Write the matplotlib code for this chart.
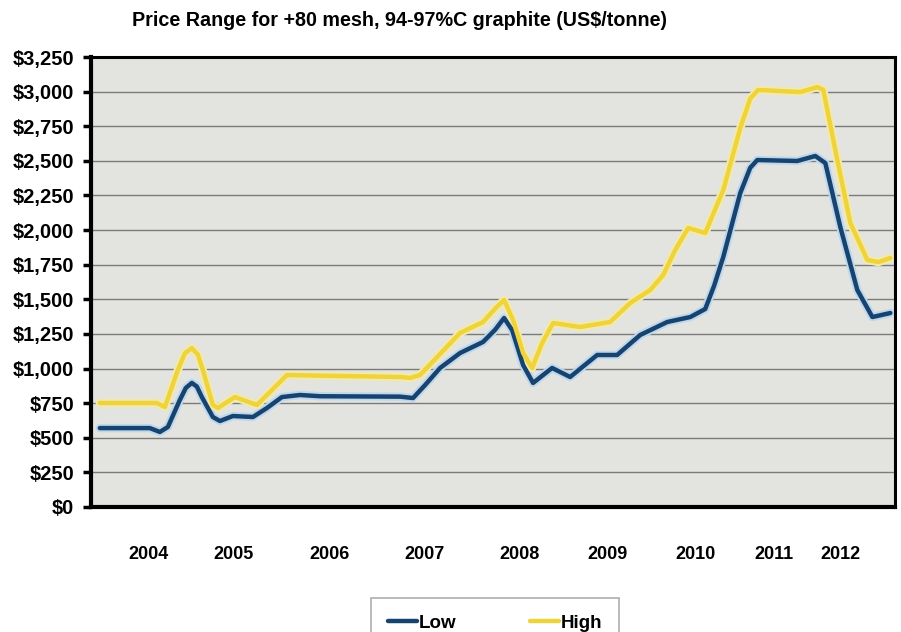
import matplotlib
matplotlib.use("Agg")
import matplotlib.pyplot as plt
from matplotlib.ticker import FuncFormatter, MultipleLocator

plt.rcParams['font.family'] = ['Liberation Sans', 'DejaVu Sans']

# Time in decimal years, prices in US$/tonne
low_t = [2004.000, 2004.568, 2004.682, 2004.773, 2004.909, 2004.977, 2005.045, 2005.102,
         2005.159, 2005.284, 2005.364, 2005.511, 2005.739, 2005.898, 2006.068, 2006.273,
         2006.500, 2007.409, 2007.557, 2007.693, 2007.864, 2008.091, 2008.352, 2008.489,
         2008.591, 2008.682, 2008.807, 2008.920, 2009.136, 2009.341, 2009.648, 2009.875,
         2010.136, 2010.443, 2010.705, 2010.875, 2010.977, 2011.080, 2011.273, 2011.386,
         2011.466, 2011.920, 2012.125, 2012.239, 2012.409, 2012.602, 2012.773, 2012.977]
low = [570, 570, 542, 578, 773, 860, 896, 870,
       794, 650, 621, 657, 650, 715, 794, 809,
       800, 797, 787, 880, 1004, 1112, 1192, 1280,
       1365, 1278, 1025, 896, 1004, 939, 1098, 1098,
       1242, 1336, 1372, 1430, 1600, 1806, 2268, 2450,
       2506, 2499, 2535, 2484, 2022, 1567, 1372, 1401]

high_t = [2004.000, 2004.648, 2004.739, 2004.886, 2004.966, 2005.045, 2005.114, 2005.170,
          2005.284, 2005.341, 2005.534, 2005.784, 2005.955, 2006.125, 2006.386, 2007.409,
          2007.523, 2007.636, 2008.091, 2008.352, 2008.500, 2008.591, 2008.693, 2008.807,
          2008.909, 2009.023, 2009.148, 2009.455, 2009.795, 2010.023, 2010.250, 2010.398,
          2010.534, 2010.682, 2010.875, 2011.080, 2011.273, 2011.386, 2011.477, 2011.955,
          2012.148, 2012.216, 2012.375, 2012.523, 2012.716, 2012.841, 2012.977]
high = [751, 751, 722, 989, 1110, 1148, 1100, 989,
        737, 715, 794, 737, 845, 953, 950, 939,
        932, 953, 1257, 1336, 1440, 1495, 1350, 1112,
        1004, 1184, 1329, 1300, 1336, 1473, 1567, 1675,
        1856, 2015, 1979, 2289, 2737, 2950, 3012, 2997,
        3033, 3012, 2506, 2051, 1784, 1769, 1798]

year_labels = ['2004', '2005', '2006', '2007', '2008', '2009', '2010', '2011', '2012']
year_pos = [2004.55, 2005.52, 2006.61, 2007.69, 2008.77, 2009.77, 2010.77, 2011.66, 2012.41]

fig = plt.figure(figsize=(9.01, 6.32), dpi=100)
fig.patch.set_facecolor('white')
ax = fig.add_axes([91 / 901, 1 - 507 / 632, 804 / 901, 450 / 632])
ax.set_facecolor('#e3e3df')

ax.set_xlim(2003.90, 2013.03)
ax.set_ylim(0, 3250)
ax.yaxis.set_major_locator(MultipleLocator(250))
ax.yaxis.set_major_formatter(FuncFormatter(lambda v, p: f"${v:,.0f}"))
ax.grid(axis='y', color='#7a7a7a', linewidth=1.0)
ax.set_axisbelow(True)

ax.set_xticks(year_pos)
ax.set_xticklabels(year_labels)
ax.tick_params(axis='x', length=0, pad=28, labelsize=13)
ax.tick_params(axis='y', length=6, width=2.5, direction='out', labelsize=14.5, pad=6)
for lab in ax.get_xticklabels() + ax.get_yticklabels():
    lab.set_fontweight('bold')

for side in ('left', 'bottom'):
    ax.spines[side].set_linewidth(3)
for side in ('top', 'right'):
    ax.spines[side].set_linewidth(2.2)
for s in ax.spines.values():
    s.set_color('black')

line_kw = dict(solid_joinstyle='round', solid_capstyle='round')
# soft halo beneath the lines
ax.plot(low_t, low, color='#bcd8ee', linewidth=6.0, zorder=2, **line_kw)
ax.plot(high_t, high, color='#f4eaa8', linewidth=6.0, zorder=2, **line_kw)
ax.plot(low_t, low, color='#18436e', linewidth=3.2, label='Low', zorder=3, **line_kw)
ax.plot(high_t, high, color='#eed33c', linewidth=3.2, label='High', zorder=3, **line_kw)

fig.text(400 / 901, 1 - 20 / 632, 'Price Range for +80 mesh, 94-97%C graphite (US$/tonne)',
         ha='center', va='center', fontsize=14.2, fontweight='bold')

leg = fig.legend(loc='upper center', bbox_to_anchor=(495 / 901, 1 - 598 / 632), ncol=2,
                 frameon=True, fancybox=False, edgecolor='#9a9a9a', handlelength=1.55,
                 columnspacing=3.9, borderpad=0.9, borderaxespad=0, handletextpad=0.1,
                 prop={'weight': 'bold', 'size': 13.5})
leg.get_frame().set_linewidth(1.2)

fig.savefig('out.png', dpi=100)
